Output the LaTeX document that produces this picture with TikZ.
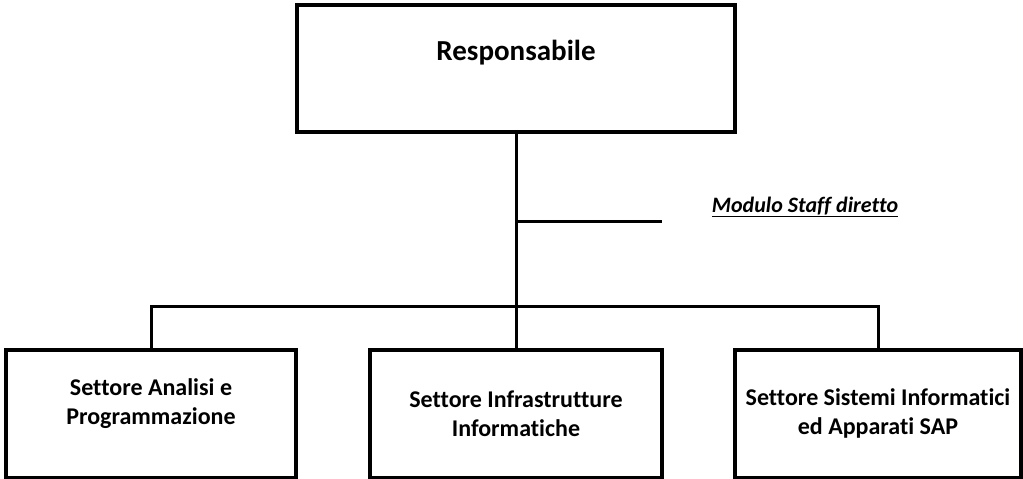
\documentclass[tikz,border=0pt]{standalone}
\usepackage{fontspec}
\setmainfont[Ligatures=NoCommon]{Carlito}
\begin{document}
\begin{tikzpicture}[x=1pt,y=-1pt,
  box/.style={draw=black, line width=3.6pt, rectangle, inner sep=0pt},
  txt/.style={font=\bfseries\fontsize{24}{29}\selectfont, align=center, inner sep=0pt},
  conn/.style={draw=black, line width=3pt}]
\useasboundingbox (0,0) rectangle (1023,479);
% top box
\node[box, minimum width=438pt, minimum height=127pt] (resp) at (516,68.5) {};
\node[font=\bfseries\fontsize{29}{33}\selectfont, inner sep=0pt] (resptxt) at (516,53) {Responsabile};
% bottom boxes
\node[box, minimum width=290pt, minimum height=128pt,
  label={[txt, yshift=10pt]center:Settore Analisi e\\Programmazione}] (ana) at (151,414) {};
\node[box, minimum width=292pt, minimum height=128pt,
  label={[txt]center:Settore Infrastrutture\\Informatiche}] (inf) at (516,414) {};
\node[box, minimum width=286pt, minimum height=128pt,
  label={[txt, yshift=1pt]center:Settore Sistemi Informatici\\ed Apparati SAP}] (sis) at (878,414) {};
% staff
\coordinate (staffL) at (516,221);
\coordinate (staffR) at (662,221);
\node[font=\bfseries\itshape\fontsize{22}{26}\selectfont, inner sep=0pt] (staff) at (805,207) {\underline{Modulo Staff diretto}};
\coordinate (bus) at (516,306);
% connectors
\draw[conn] (resp.south) -- (inf.north);
\draw[conn] (staffL) -- (staffR);
\draw[conn] (ana.north) |- (bus) -| (sis.north);
\end{tikzpicture}
\end{document}
